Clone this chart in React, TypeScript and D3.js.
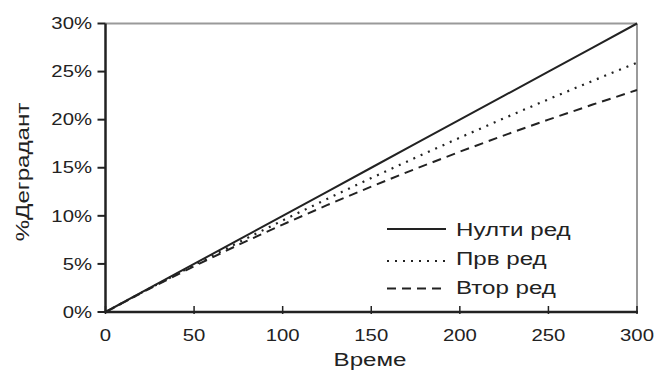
import React from "react";
import * as d3 from "d3";

const times = [0, 25, 50, 75, 100, 125, 150, 175, 200, 225, 250, 275, 300];
const zeroOrder = [0, 2.5, 5, 7.5, 10, 12.5, 15, 17.5, 20, 22.5, 25, 27.5, 30];
const firstOrder = [0, 2.47, 4.88, 7.23, 9.52, 11.75, 13.93, 16.05, 18.13, 20.15, 22.12, 24.04, 25.92];
const secondOrder = [0, 2.44, 4.76, 6.98, 9.09, 11.11, 13.04, 14.89, 16.67, 18.37, 20.0, 21.57, 23.08];
const xTicks = [0, 50, 100, 150, 200, 250, 300];
const yTicks = [0, 5, 10, 15, 20, 25, 30];
const seriesNames = ["Нулти ред", "Прв ред", "Втор ред"];
const xTitle = "Време";
const yTitle = "%Деградант";

const W = 655, H = 377;
const FONT = "'Liberation Sans', Arial, sans-serif";
const SX = 1.27;

export default function App() {
  const x = d3.scaleLinear().domain([0, 300]).range([105.5, 637]);
  const y = d3.scaleLinear().domain([0, 30]).range([312, 23.5]);
  const line = (vals: number[]) =>
    d3.line<number>().x((_, i) => x(times[i])).y((v) => y(v))(vals) || "";
  const series = [
    { vals: zeroOrder, dash: "none", width: 2 },
    { vals: firstOrder, dash: "2,6", width: 2.2 },
    { vals: secondOrder, dash: "9,6", width: 2 },
  ];
  const legendY = [229, 261, 288.5];
  const legendBase = [236, 265, 294];
  return (
    <svg width={W} height={H} style={{ position: "absolute", left: 0, top: 0, background: "#fff" }}>
      {/* frame top/right */}
      <line x1={x(0)} x2={x(300)} y1={y(30)} y2={y(30)} stroke="#9a9a9a" strokeWidth={2} />
      <line x1={x(300)} x2={x(300)} y1={y(30)} y2={y(0)} stroke="#9a9a9a" strokeWidth={2} />
      {series.map((s, i) => (
        <path key={i} d={line(s.vals)} fill="none" stroke="#222" strokeWidth={s.width}
          strokeDasharray={s.dash} />
      ))}
      {/* axes */}
      <line x1={x(0)} x2={x(0)} y1={y(30)} y2={y(0) + 1} stroke="#222" strokeWidth={2.5} />
      <line x1={x(0) - 1} x2={x(300) + 1} y1={y(0)} y2={y(0)} stroke="#222" strokeWidth={2.5} />
      {yTicks.map((t) => (
        <g key={t}>
          <line x1={x(0) - 8} x2={x(0)} y1={y(t)} y2={y(t)} stroke="#222" strokeWidth={2} />
          <text transform={`translate(92,${y(t)}) scale(${SX},1)`} textAnchor="end"
            dominantBaseline="central" fontFamily={FONT} fontSize={16} fill="#222">{t}%</text>
        </g>
      ))}
      {xTicks.map((t) => (
        <g key={t}>
          <line x1={x(t)} x2={x(t)} y1={y(0) - 6} y2={y(0) + 2} stroke="#222" strokeWidth={1.5} />
          <text transform={`translate(${x(t)},341) scale(${SX},1)`} textAnchor="middle"
            fontFamily={FONT} fontSize={16} fill="#222">{t}</text>
        </g>
      ))}
      <text transform={`translate(370,366) scale(${SX},1)`} textAnchor="middle"
        fontFamily={FONT} fontSize={19} fill="#222">{xTitle}</text>
      <text transform={`translate(22,172) rotate(-90) scale(${SX},1)`} textAnchor="middle"
        dominantBaseline="central" fontFamily={FONT} fontSize={19} fill="#222">{yTitle}</text>
      {/* legend */}
      {seriesNames.map((n, i) => (
        <g key={n}>
          <line x1={387} x2={446} y1={legendY[i]} y2={legendY[i]} stroke="#222"
            strokeWidth={series[i].width} strokeDasharray={series[i].dash} />
          <text transform={`translate(456,${legendBase[i]}) scale(${SX},1)`}
            fontFamily={FONT} fontSize={19} fill="#222">{n}</text>
        </g>
      ))}
    </svg>
  );
}
